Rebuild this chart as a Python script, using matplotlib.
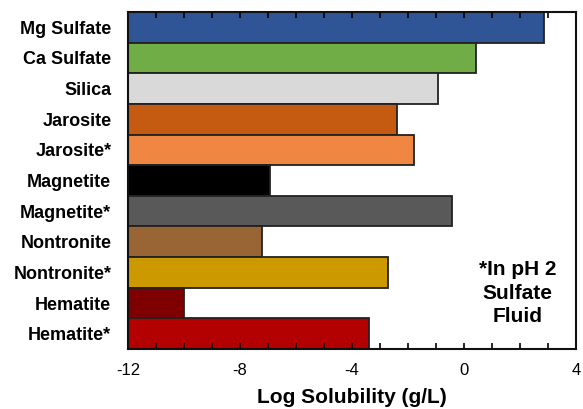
import matplotlib
matplotlib.use("Agg")
import matplotlib.pyplot as plt
from matplotlib.ticker import MultipleLocator

categories = ["Mg Sulfate", "Ca Sulfate", "Silica", "Jarosite", "Jarosite*",
              "Magnetite", "Magnetite*", "Nontronite", "Nontronite*",
              "Hematite", "Hematite*"]
values = [2.87, 0.42, -0.92, -2.38, -1.79, -6.93, -0.44, -7.21, -2.71, -9.99, -3.40]
colors = ["#2F5597", "#70AD47", "#D9D9D9", "#C55A11", "#EF8743",
          "#000000", "#595959", "#9A6535", "#CC9A00", "#7F0000", "#B30000"]
xticks = [-12, -8, -4, 0, 4]

plt.rcParams['font.family'] = ['Liberation Sans', 'DejaVu Sans']

fig = plt.figure(figsize=(5.83, 4.09), dpi=100)
ax = fig.add_axes([0.2196, 0.1467, 0.988 - 0.2196, 0.9707 - 0.1467])

base = -12
y = list(range(len(categories)))
widths = [v - base for v in values]
ax.barh(y, widths, left=base, height=1.0, color=colors,
        edgecolor="#222222", linewidth=1.3)

ax.set_xlim(-12, 4)
ax.set_ylim(len(categories) - 0.5, -0.5)
ax.set_yticks(y)
ax.set_yticklabels(categories, fontsize=13, fontweight='bold')
ax.tick_params(axis='y', length=0, pad=12)
ax.set_xticks(xticks)
ax.xaxis.set_minor_locator(MultipleLocator(1))
ax.tick_params(axis='x', which='both', direction='in', top=True, bottom=True,
               length=4, width=1.2, labelsize=12, pad=10)
ax.set_xticklabels([str(t) for t in xticks])
ax.set_xlabel("Log Solubility (g/L)", fontsize=15, fontweight='bold', labelpad=7)

for s in ax.spines.values():
    s.set_linewidth(1.5)
    s.set_color("#111111")

ax.text(0.87, 0.166, "*In pH 2\nSulfate\nFluid", transform=ax.transAxes,
        ha='center', va='center', fontsize=15, fontweight='bold',
        linespacing=1.3)

fig.savefig("out.png", dpi=100)
